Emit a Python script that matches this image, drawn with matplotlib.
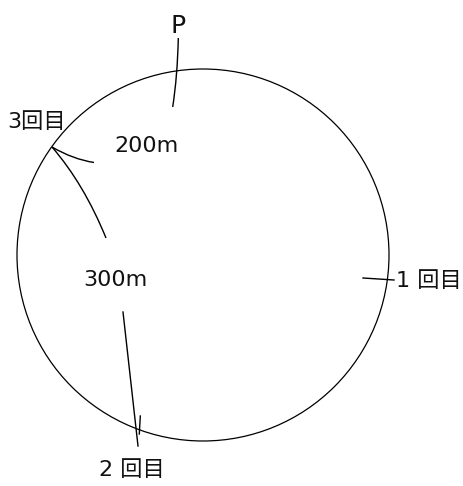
import matplotlib
matplotlib.use("Agg")
import matplotlib.pyplot as plt
from matplotlib.path import Path
from matplotlib.patches import PathPatch, Circle
import numpy as np

# track (circle) in pixel-like coordinates
center = (203, 255)
radius = 186

labels = ["P", "3回目", "200m", "300m", "1 回目", "2 回目"]
label_x = [178.5, 7, 114, 83, 396, 99]
label_y = [33, 128, 152, 285.5, 287, 476]
label_size = [18, 16, 16, 16, 16, 16]

# curved marks: start, control, end (quadratic)
curves = [
    [(178.3, 38), (177.5, 76), (172.7, 107)],   # P tick
    [(52, 147), (73, 159.3), (94, 162.5)],      # 200m arc
    [(52, 147), (84, 184), (106, 238)],         # 300m arc
]
# straight marks
segments = [
    [(123, 312), (138, 446)],     # to 2nd
    [(140.3, 416), (139.3, 434)], # tick at 2nd
    [(363, 278), (394, 280)],     # tick at 1st
]

fig = plt.figure(figsize=(4.64, 4.86), dpi=100)
ax = fig.add_axes([0, 0, 1, 1])
ax.set_xlim(0, 464)
ax.set_ylim(486, 0)
ax.axis("off")

ax.add_patch(Circle(center, radius, fill=False, ec="black", lw=0.9))

for p0, c, p2 in curves:
    path = Path([p0, c, p2], [Path.MOVETO, Path.CURVE3, Path.CURVE3])
    ax.add_patch(PathPatch(path, fill=False, ec="black", lw=1.0))

for (x0, y0), (x1, y1) in segments:
    ax.plot([x0, x1], [y0, y1], color="black", lw=1.0)

fam = ["DejaVu Sans", "Noto Sans CJK JP"]
for t, x, y, s in zip(labels, label_x, label_y, label_size):
    ax.text(x, y, t, ha="center" if t == "P" else "left", va="baseline",
            fontsize=s, family=fam, color="#111111")

fig.savefig("out.png", dpi=100)
